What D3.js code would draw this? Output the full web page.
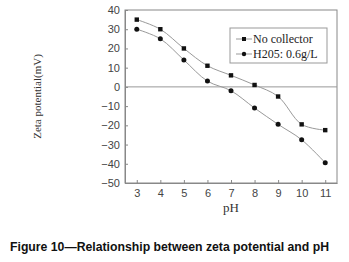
<!DOCTYPE html>
<html>
<head>
<meta charset="utf-8">
<script src="https://cdn.jsdelivr.net/npm/d3@7"></script>
<style>
  body { margin: 0; background: #fff; }
</style>
</head>
<body>
<svg class="chart" width="349" height="262"></svg>
<script>
// data
var phValues = [3, 4, 5, 6, 7, 8, 9, 10, 11];
var noCollector = [35, 30, 20, 11, 6, 1, -5, -19.5, -22.5];
var h205 = [30, 25, 14, 3, -2, -11, -19.5, -27.5, -39.5];
var yTicks = [40, 30, 20, 10, 0, -10, -20, -30, -40, -50];
var seriesNames = ["No collector", "H205: 0.6g/L"];

var svg = d3.select(".chart");

var margin = { top: 10, right: 12, bottom: 79, left: 125 },
    width = 349 - margin.left - margin.right,
    height = 262 - margin.top - margin.bottom;

var g = svg.append("g")
    .attr("transform", `translate(${margin.left}, ${margin.top})`);

var x = d3.scaleLinear().domain([2.5, 11.5]).range([0, width]);
var y = d3.scaleLinear().domain([-50, 40]).range([height, 0]);

// frame
g.append("rect")
    .attr("width", width)
    .attr("height", height)
    .attr("fill", "none")
    .attr("stroke", "#888")
    .attr("stroke-width", 1);

// zero line
g.append("line")
    .attr("x1", 0)
    .attr("x2", width)
    .attr("y1", y(0))
    .attr("y2", y(0))
    .attr("stroke", "#999")
    .attr("stroke-width", 1);

// axes
var xAxis = g.append("g")
    .attr("transform", `translate(0, ${height})`)
    .call(d3.axisBottom(x).tickValues(phValues).tickSize(-3).tickPadding(6).tickSizeOuter(0));
var yAxis = g.append("g")
    .call(d3.axisLeft(y).tickValues(yTicks).tickSize(-3).tickPadding(5).tickSizeOuter(0));

[xAxis, yAxis].forEach(function (a) {
    a.select(".domain").attr("stroke", "#888");
    a.selectAll("line").attr("stroke", "#888");
    a.selectAll("text")
        .attr("font-family", "Liberation Sans, Arial, sans-serif")
        .attr("font-size", "11px")
        .attr("fill", "#444");
});

// axis titles
svg.append("text")
    .attr("x", margin.left + x(7))
    .attr("y", 212)
    .attr("text-anchor", "middle")
    .attr("font-family", "Liberation Serif, Times New Roman, serif")
    .attr("font-size", "13px")
    .attr("fill", "#333")
    .text("pH");

svg.append("text")
    .attr("transform", `translate(41, ${margin.top + y(-5)}) rotate(-90)`)
    .attr("text-anchor", "middle")
    .attr("font-family", "Liberation Serif, Times New Roman, serif")
    .attr("font-size", "11px")
    .attr("fill", "#333")
    .text("Zeta potential(mV)");

// curves
var line = d3.line()
    .x(function (d, i) { return x(phValues[i]); })
    .y(function (d) { return y(d); })
    .curve(d3.curveCatmullRom.alpha(0.5));

[noCollector, h205].forEach(function (s) {
    g.append("path")
        .datum(s)
        .attr("d", line)
        .attr("fill", "none")
        .attr("stroke", "#999")
        .attr("stroke-width", 1);
});

// markers
g.selectAll(".sq")
    .data(noCollector)
    .join("rect")
    .attr("class", "sq")
    .attr("x", function (d, i) { return x(phValues[i]) - 2.2; })
    .attr("y", function (d) { return y(d) - 2.2; })
    .attr("width", 4.4)
    .attr("height", 4.4)
    .attr("fill", "#111");

g.selectAll(".dot")
    .data(h205)
    .join("circle")
    .attr("class", "dot")
    .attr("cx", function (d, i) { return x(phValues[i]); })
    .attr("cy", function (d) { return y(d); })
    .attr("r", 2.5)
    .attr("fill", "#111");

// legend
var legend = svg.append("g").attr("transform", "translate(230, 28)");
legend.append("rect")
    .attr("width", 97)
    .attr("height", 35)
    .attr("fill", "#fff")
    .attr("stroke", "#999");

seriesNames.forEach(function (name, i) {
    var ly = 11 + i * 15;
    legend.append("line")
        .attr("x1", 6).attr("x2", 22)
        .attr("y1", ly).attr("y2", ly)
        .attr("stroke", "#999");
    if (i === 0) {
        legend.append("rect")
            .attr("x", 12).attr("y", ly - 2)
            .attr("width", 4).attr("height", 4)
            .attr("fill", "#111");
    } else {
        legend.append("circle")
            .attr("cx", 14).attr("cy", ly)
            .attr("r", 2.2)
            .attr("fill", "#111");
    }
    legend.append("text")
        .attr("x", 23)
        .attr("y", ly + 4)
        .attr("font-family", "Liberation Serif, Times New Roman, serif")
        .attr("font-size", "12px")
        .attr("fill", "#222")
        .text(name);
});

// caption
svg.append("text")
    .attr("x", 10)
    .attr("y", 251)
    .attr("font-family", "Liberation Sans Narrow, Arial Narrow, Liberation Sans, Arial, sans-serif")
    .attr("font-weight", "bold")
    .attr("font-size", "12px")
    .attr("fill", "#111")
    .attr("textLength", 319)
    .attr("lengthAdjust", "spacingAndGlyphs")
    .text("Figure 10\u2014Relationship between zeta potential and pH");
</script>
</body>
</html>
